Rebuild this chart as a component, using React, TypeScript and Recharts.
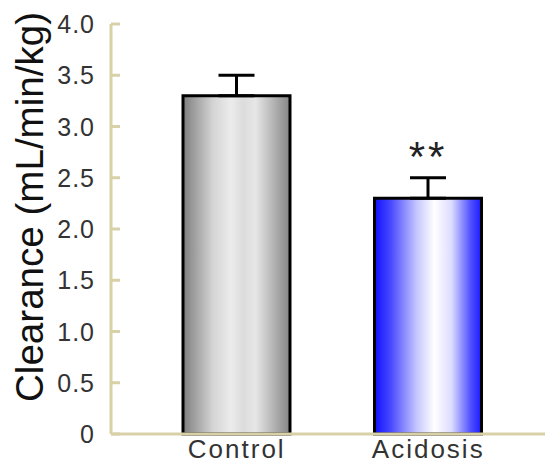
import React from 'react';
import { BarChart, Bar, XAxis, YAxis, ErrorBar, Cell, LabelList } from 'recharts';

const groups = ['Control', 'Acidosis'];
const clearance = [3.3, 2.3];
const sem = [0.2, 0.2];
const significance = ['', '**'];
const yTicks = [0, 0.5, 1, 1.5, 2, 2.5, 3, 3.5, 4];

const FONT = '"Liberation Sans", Arial, sans-serif';
const FRAME = '#d8d0a6';

// error bars only go up, like the original
const data = groups.map((g, i) => ({
  name: g,
  value: clearance[i],
  err: [0, sem[i]],
  sig: significance[i],
}));

const YTick = (props: any) => {
  const { x, y, payload } = props;
  const v = payload.value;
  return (
    <g>
      <line x1={x} x2={x + 9} y1={y} y2={y} stroke={FRAME} strokeWidth={3} />
      <text
        x={x - 16}
        y={y}
        dy="0.36em"
        textAnchor="end"
        fill="#333"
        fontSize={25}
        fontFamily={FONT}
        letterSpacing={1}
      >
        {v === 0 ? '0' : v.toFixed(1)}
      </text>
    </g>
  );
};

const YLabel = () => (
  <text
    x={43}
    y={207}
    transform="rotate(-90 43 207)"
    textAnchor="middle"
    fontSize={38}
    fontFamily={FONT}
    fill="#111"
    textLength={390}
    lengthAdjust="spacingAndGlyphs"
  >
    Clearance (mL/min/kg)
  </text>
);

export default function App() {
  return (
    <div style={{ position: 'absolute', left: 0, top: 0, background: '#fff' }}>
      <BarChart
        width={547}
        height={463}
        data={data}
        margin={{ top: 24, right: 2, bottom: 0, left: 0 }}
      >
        <defs>
          <linearGradient id="gray" x1="0" y1="0" x2="1" y2="0">
            <stop offset="0" stopColor="#7e7e7e" />
            <stop offset="0.28" stopColor="#d4d4d4" />
            <stop offset="0.45" stopColor="#ececec" />
            <stop offset="0.56" stopColor="#dcdcdc" />
            <stop offset="0.68" stopColor="#e6e6e6" />
            <stop offset="1" stopColor="#858585" />
          </linearGradient>
          <linearGradient id="blue" x1="0" y1="0" x2="1" y2="0">
            <stop offset="0" stopColor="#1010ff" />
            <stop offset="0.15" stopColor="#4848ff" />
            <stop offset="0.4" stopColor="#c8c8ff" />
            <stop offset="0.56" stopColor="#ffffff" />
            <stop offset="0.72" stopColor="#dcdcff" />
            <stop offset="0.9" stopColor="#5050ff" />
            <stop offset="1" stopColor="#1a1aff" />
          </linearGradient>
        </defs>
        <XAxis
          dataKey="name"
          height={29}
          padding={{ left: 30, right: 21 }}
          axisLine={{ stroke: FRAME, strokeWidth: 3 }}
          tickLine={false}
          tickSize={0}
          tickMargin={6}
          tick={{ fill: '#333', fontSize: 26, fontFamily: FONT, letterSpacing: 2 }}
        />
        <XAxis
          xAxisId="top"
          dataKey="name"
          orientation="top"
          height={0}
          tick={false}
          tickLine={false}
          axisLine={{ stroke: FRAME, strokeWidth: 3 }}
        />
        <YAxis
          width={111}
          domain={[0, 4]}
          ticks={yTicks}
          interval={0}
          axisLine={{ stroke: FRAME, strokeWidth: 3 }}
          tickLine={false}
          tickSize={0}
          tickMargin={0}
          tick={<YTick />}
          label={{ content: () => <YLabel /> }}
        />
        <YAxis
          yAxisId="right"
          orientation="right"
          width={0}
          domain={[0, 4]}
          tick={false}
          tickLine={false}
          axisLine={{ stroke: FRAME, strokeWidth: 3 }}
        />
        <Bar dataKey="value" barSize={107} stroke="#000" strokeWidth={3} isAnimationActive={false}>
          <Cell fill="url(#gray)" />
          <Cell fill="url(#blue)" />
          <ErrorBar dataKey="err" direction="y" width={18} stroke="#000" strokeWidth={3} />
          <LabelList
            dataKey="sig"
            position="top"
            offset={27}
            fill="#222"
            fontSize={42}
            fontFamily={FONT}
            letterSpacing={3}
          />
        </Bar>
      </BarChart>
    </div>
  );
}
